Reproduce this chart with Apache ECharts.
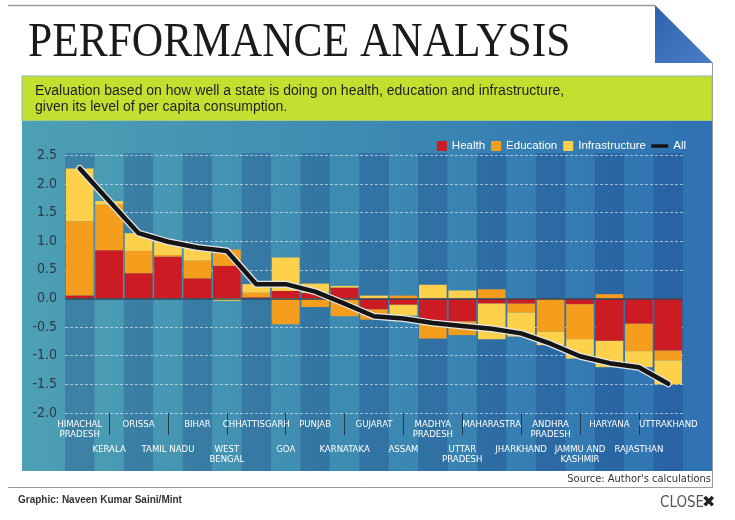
<!DOCTYPE html>
<html>
<head>
<meta charset="utf-8">
<script src="https://cdn.jsdelivr.net/npm/echarts@6/dist/echarts.min.js"></script>
<style>
html,body{margin:0;padding:0;background:#fff;}
#chart{width:735px;height:520px;}
</style>
</head>
<body>
<div id="chart"></div>
<script>
// ---- data ----
var states = ['HIMACHAL\nPRADESH','KERALA','ORISSA','TAMIL NADU','BIHAR','WEST\nBENGAL','CHHATTISGARH','GOA','PUNJAB','KARNATAKA','GUJARAT','ASSAM','MADHYA\nPRADESH','UTTAR\nPRADESH','MAHARASTRA','JHARKHAND','ANDHRA\nPRADESH','JAMMU AND\nKASHMIR','HARYANA','RAJASTHAN','UTTRAKHAND'];
var health = [0.05, 0.84, 0.44, 0.73, 0.35, 0.57, 0.02, 0.13, 0.10, 0.19, -0.19, -0.11, -0.45, -0.40, -0.09, -0.09, -0.01, -0.10, -0.74, -0.44, -0.91];
var education = [1.30, 0.80, 0.39, 0.03, 0.31, 0.285, 0.08, -0.45, -0.15, -0.31, -0.18, 0.05, -0.25, -0.24, 0.16, -0.155, -0.57, -0.61, 0.075, -0.48, -0.17];
var infrastructure = [0.92, 0.06, 0.31, 0.24, 0.22, -0.04, 0.15, 0.585, 0.16, 0.03, 0.05, -0.19, 0.24, 0.14, -0.62, -0.42, -0.235, -0.34, -0.46, -0.28, -0.42];
var allScore = [2.27, 1.70, 1.14, 0.99, 0.89, 0.83, 0.25, 0.25, 0.12, -0.09, -0.31, -0.35, -0.43, -0.48, -0.53, -0.61, -0.79, -1.01, -1.13, -1.20, -1.49];
var yTicks = {min: -2.0, max: 2.5, interval: 0.5};

var chart = echarts.init(document.getElementById('chart'), null, {renderer: 'canvas'});
var narrow = '"Liberation Sans Narrow","DejaVu Sans Condensed","Liberation Sans",sans-serif';

var option = {
  animation: false,
  graphic: [
    {type:'line', z:-10, shape:{x1:8,y1:5.5,x2:655,y2:5.5}, style:{stroke:'#9a9a9a', lineWidth:1.5}},
    {type:'line', z:-10, shape:{x1:712.5,y1:63,x2:712.5,y2:487}, style:{stroke:'#9a9a9a', lineWidth:1}},
    {type:'line', z:-10, shape:{x1:8,y1:487.5,x2:713,y2:487.5}, style:{stroke:'#9a9a9a', lineWidth:1}},
    {type:'polygon', z:-10, shape:{points:[[655,5],[655,63],[713,63]]},
      style:{fill:{type:'linear',x:0,y:0,x2:1,y2:1,colorStops:[{offset:0,color:'#2f62ad'},{offset:1,color:'#4a7fc6'}]}}},
    {type:'text', z:10, x:28, y:43, scaleX:0.905,
      style:{text:'PERFORMANCE ANALYSIS', x:0, y:0, font:'48px "Liberation Serif","DejaVu Serif",serif', fill:'#1b1b1b', textVerticalAlign:'middle'}},
    {type:'rect', z:-10, shape:{x:22,y:76,width:690,height:45}, style:{fill:'#c3df30', stroke:'#8fb8b8', lineWidth:1}},
    {type:'text', z:10, style:{text:'Evaluation based on how well a state is doing on health, education and infrastructure,', x:35, y:91, font:'14px "Liberation Sans",Arial,sans-serif', fill:'#1f1f1f', textVerticalAlign:'middle'}},
    {type:'text', z:10, style:{text:'given its level of per capita consumption.', x:35, y:107, font:'14px "Liberation Sans",Arial,sans-serif', fill:'#1f1f1f', textVerticalAlign:'middle'}},
    {type:'rect', z:-10, shape:{x:22,y:121,width:690,height:350},
      style:{fill:{type:'linear',x:0,y:0,x2:1,y2:0,colorStops:[{offset:0,color:'#4ea0b4'},{offset:0.5,color:'#3d8ab2'},{offset:1,color:'#2f71b2'}]}}},
    {type:'text', z:10, style:{text:"Source: Author's calculations", x:711, y:479, font:'11px '+narrow, fill:'#333', textAlign:'right', textVerticalAlign:'middle'}},
    {type:'text', z:10, style:{text:'Graphic: Naveen Kumar Saini/Mint', x:18, y:500, font:'bold 10px "Liberation Sans",Arial,sans-serif', fill:'#333', textVerticalAlign:'middle'}},
    {type:'text', z:10, style:{text:'CLOSE', x:660, y:503, font:'15px '+narrow, fill:'#555', textVerticalAlign:'middle'}},
    {type:'text', z:10, style:{text:'\u2716', x:702, y:503, font:'bold 16px "DejaVu Sans",sans-serif', fill:'#222', textVerticalAlign:'middle'}}
  ],
  legend: [
    {data:['Health','Education','Infrastructure'], right:84, top:135, icon:'rect', itemWidth:10, itemHeight:10, itemGap:6,
      textStyle:{color:'#fff', fontSize:11.5, fontFamily:'"Liberation Sans",Arial,sans-serif'}},
    {data:['All'], right:44, top:135, icon:'rect', itemWidth:17, itemHeight:3.5,
      textStyle:{color:'#fff', fontSize:11.5, fontFamily:'"Liberation Sans",Arial,sans-serif'}}
  ],
  grid: [
    {left:65, right:52, top:155.3, bottom:107, containLabel:false},
    {left:65, right:52, top:153, bottom:49, containLabel:false}
  ],
  xAxis: [
    {type:'category', gridIndex:0, data:states, z:3,
      axisLine:{show:false, onZero:false},
      axisTick:{show:true, alignWithLabel:true, length:22, interval:function(i){return i % 2 === 1;}, lineStyle:{color:'#223a52', width:1}},
      axisLabel:{interval:0, color:'#fff', fontSize:9.5, lineHeight:10, margin:7, fontFamily:narrow,
        formatter:function(v, i){ return i % 2 === 1 ? '{sp|}\n' + v : v; },
        rich:{sp:{lineHeight:25, fontSize:9.5}}},
      splitLine:{show:false}},
    {type:'category', gridIndex:1, data:states, z:0,
      axisLine:{show:false}, axisTick:{show:false}, axisLabel:{show:false},
      splitArea:{show:true, interval:0, areaStyle:{color:['rgba(18,45,115,0.24)','rgba(0,0,0,0)']}}}
  ],
  yAxis: [
    {type:'value', gridIndex:0, min:yTicks.min, max:yTicks.max, interval:yTicks.interval, z:1,
      axisLine:{show:false}, axisTick:{show:false},
      axisLabel:{color:'#2a3a4a', fontSize:14, fontFamily:narrow, margin:8, formatter:function(v){return v.toFixed(1);}},
      splitLine:{show:true, lineStyle:{color:'rgba(255,255,255,0.55)', type:[3,2], width:1}}},
    {type:'value', gridIndex:1, show:false, min:0, max:1}
  ],
  series: [
    {name:'Health', type:'bar', stack:'s', data:health, barCategoryGap:'6%', itemStyle:{color:'#cc1b22'},
      markLine:{silent:true, symbol:'none', label:{show:false}, data:[{yAxis:0}], lineStyle:{color:'#2c475c', type:'solid', width:1.5}}},
    {name:'Education', type:'bar', stack:'s', data:education, barCategoryGap:'6%', itemStyle:{color:'#f59d1d'}},
    {name:'Infrastructure', type:'bar', stack:'s', data:infrastructure, barCategoryGap:'6%', itemStyle:{color:'#fed14c'}},
    {name:'All-outline', type:'line', data:allScore, symbol:'none', z:5, lineStyle:{color:'#e6e6e6', width:7, join:'round', cap:'round'}},
    {name:'All', type:'line', data:allScore, symbol:'none', z:6, color:'#151515', itemStyle:{color:'#151515'}, lineStyle:{color:'#151515', width:4.5, join:'round', cap:'round'}}
  ]
};
chart.setOption(option);
</script>
</body>
</html>
